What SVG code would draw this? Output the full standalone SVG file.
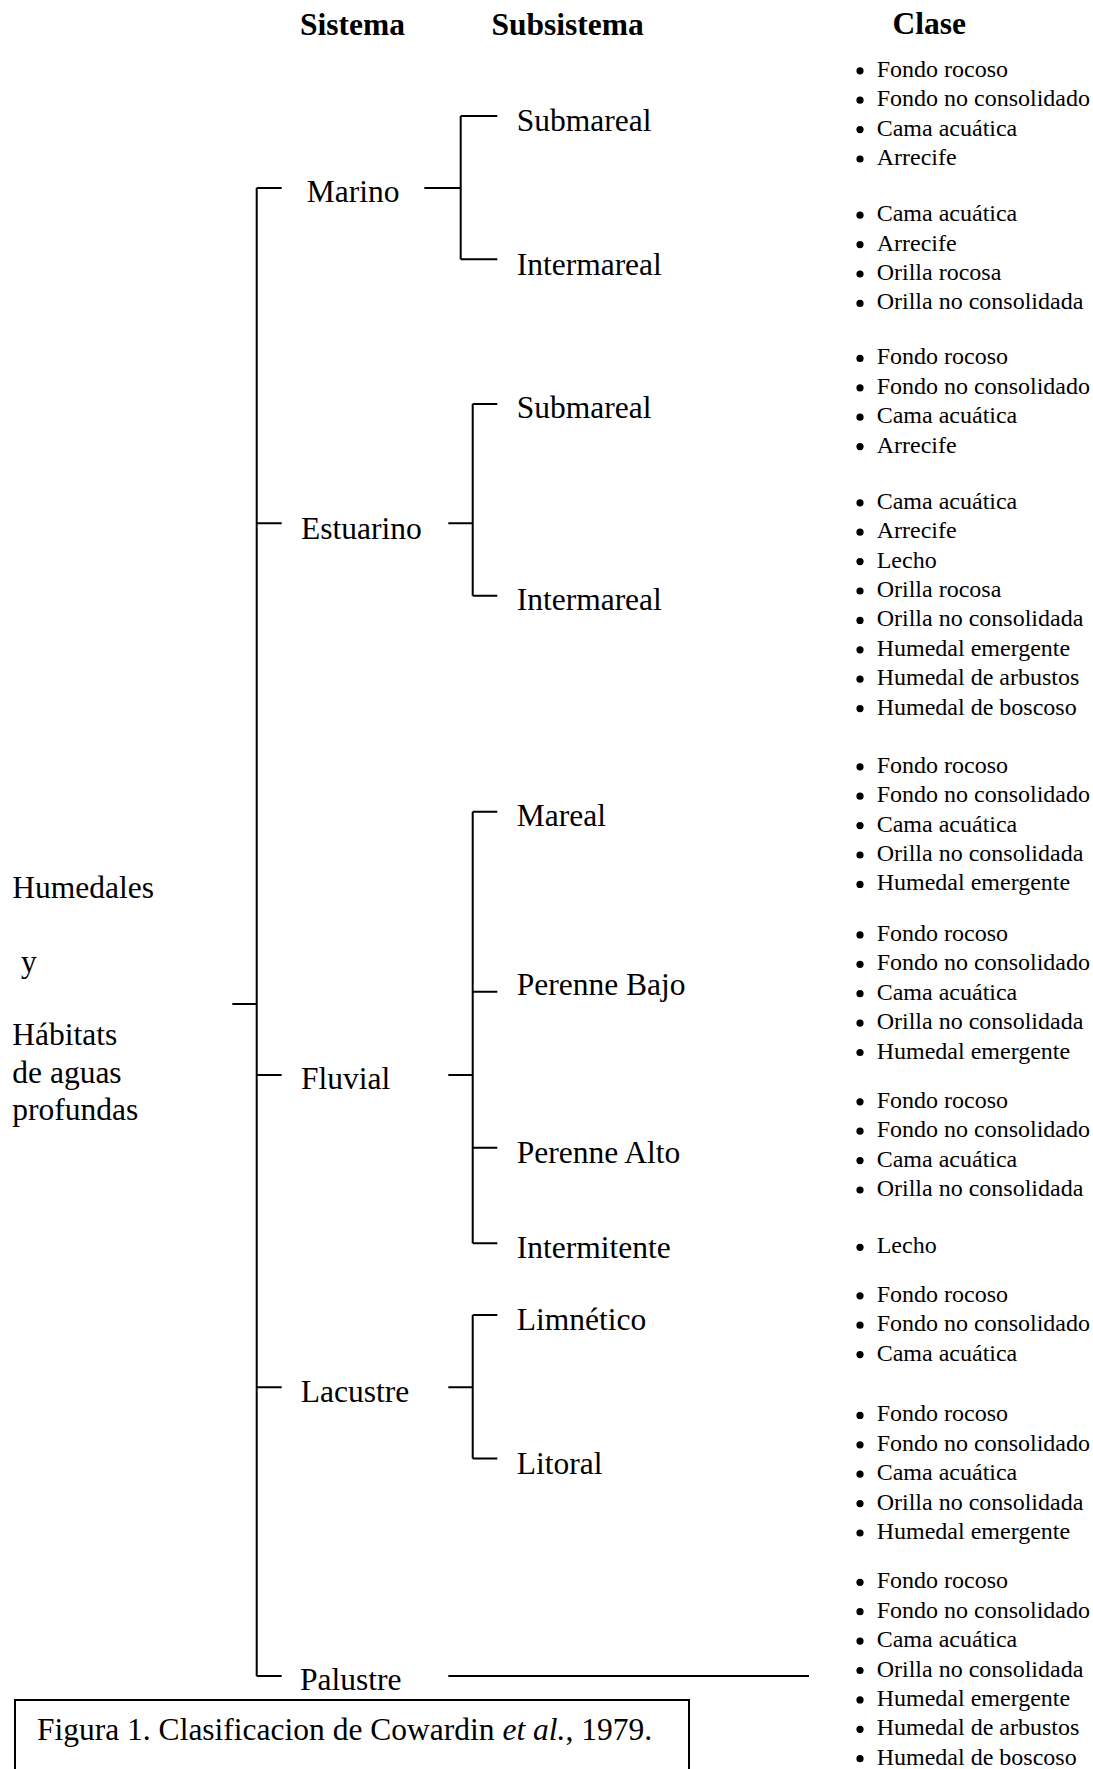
<svg xmlns="http://www.w3.org/2000/svg" xmlns:xlink="http://www.w3.org/1999/xlink" width="1093" height="1769" viewBox="0 0 1093 1769">
<style>
text{font-family:"Liberation Serif","Times New Roman",serif;fill:#000}
.h{font-size:31.5px;font-weight:bold}
.t{font-size:31.5px}
.l{font-size:24px}
.c{fill:none;stroke:#000;stroke-width:2}
</style>
<defs><circle id="b" r="3.6" fill="#000"/></defs>
<rect width="1093" height="1769" fill="#fff"/>
<g id="headers">
<text class="h" x="300" y="35">Sistema</text>
<text class="h" x="491.5" y="35">Subsistema</text>
<text class="h" x="892.5" y="34">Clase</text>
</g>
<g id="connectors" class="c">
<path d="M256.7,188 V1676 M232.3,1004 H256.7 M256.7,188 H281.7 M256.7,523.3 H281.7 M256.7,1075 H281.7 M256.7,1387.3 H281.7 M256.7,1676 H281.7"/>
<path d="M424.3,188 H460.7 M460.7,116 V259.3 M460.7,116 H497.3 M460.7,259.3 H497.3"/>
<path d="M448.3,523.3 H472.7 M472.7,404 V595.7 M472.7,404 H497.3 M472.7,595.7 H497.3"/>
<path d="M448.3,1075 H472.7 M472.7,811.7 V1243.3 M472.7,811.7 H497.3 M472.7,991.7 H497.3 M472.7,1147.7 H497.3 M472.7,1243.3 H497.3"/>
<path d="M448.3,1387.3 H472.7 M472.7,1315 V1458.5 M472.7,1315 H497.3 M472.7,1458.5 H497.3"/>
<path d="M448.3,1676 H809"/>
</g>
<g id="root">
<text class="t" x="12.3" y="898.3">Humedales</text>
<text class="t" x="21" y="972">y</text>
<text class="t" x="12.3" y="1045">Hábitats</text>
<text class="t" x="12.3" y="1082.7">de aguas</text>
<text class="t" x="12.3" y="1120">profundas</text>
</g>
<g id="marino"><text class="t" x="306.7" y="202">Marino</text></g>
<g id="estuarino"><text class="t" x="301" y="538.5">Estuarino</text></g>
<g id="fluvial"><text class="t" x="301" y="1089.3">Fluvial</text></g>
<g id="lacustre"><text class="t" x="300.8" y="1401.7">Lacustre</text></g>
<g id="palustre"><text class="t" x="300" y="1690">Palustre</text></g>
<g id="marino-submareal"><text class="t" x="516.7" y="131">Submareal</text></g>
<g id="marino-intermareal"><text class="t" x="516.7" y="275">Intermareal</text></g>
<g id="estuarino-submareal"><text class="t" x="516.7" y="418">Submareal</text></g>
<g id="estuarino-intermareal"><text class="t" x="516.7" y="610">Intermareal</text></g>
<g id="fluvial-mareal"><text class="t" x="516.7" y="825.7">Mareal</text></g>
<g id="fluvial-perenne-bajo"><text class="t" x="516.7" y="995.3">Perenne Bajo</text></g>
<g id="fluvial-perenne-alto"><text class="t" x="516.7" y="1163">Perenne Alto</text></g>
<g id="fluvial-intermitente"><text class="t" x="516.7" y="1257.5">Intermitente</text></g>
<g id="lacustre-limnetico"><text class="t" x="516.7" y="1330">Limnético</text></g>
<g id="lacustre-litoral"><text class="t" x="516.7" y="1473.5">Litoral</text></g>

<g id="clase-marino-submareal">
<use xlink:href="#b" x="860" y="70.8"/><text class="l" x="876.7" y="76.8">Fondo rocoso</text>
<use xlink:href="#b" x="860" y="100.2"/><text class="l" x="876.7" y="106.2">Fondo no consolidado</text>
<use xlink:href="#b" x="860" y="129.6"/><text class="l" x="876.7" y="135.6">Cama acuática</text>
<use xlink:href="#b" x="860" y="159"/><text class="l" x="876.7" y="165">Arrecife</text>
</g>
<g id="clase-marino-intermareal">
<use xlink:href="#b" x="860" y="215.2"/><text class="l" x="876.7" y="221.2">Cama acuática</text>
<use xlink:href="#b" x="860" y="244.6"/><text class="l" x="876.7" y="250.6">Arrecife</text>
<use xlink:href="#b" x="860" y="274"/><text class="l" x="876.7" y="280">Orilla rocosa</text>
<use xlink:href="#b" x="860" y="303.4"/><text class="l" x="876.7" y="309.4">Orilla no consolidada</text>
</g>
<g id="clase-estuarino-submareal">
<use xlink:href="#b" x="860" y="358.4"/><text class="l" x="876.7" y="364.4">Fondo rocoso</text>
<use xlink:href="#b" x="860" y="387.8"/><text class="l" x="876.7" y="393.8">Fondo no consolidado</text>
<use xlink:href="#b" x="860" y="417.2"/><text class="l" x="876.7" y="423.2">Cama acuática</text>
<use xlink:href="#b" x="860" y="446.6"/><text class="l" x="876.7" y="452.6">Arrecife</text>
</g>
<g id="clase-estuarino-intermareal">
<use xlink:href="#b" x="860" y="502.8"/><text class="l" x="876.7" y="508.8">Cama acuática</text>
<use xlink:href="#b" x="860" y="532.2"/><text class="l" x="876.7" y="538.2">Arrecife</text>
<use xlink:href="#b" x="860" y="561.6"/><text class="l" x="876.7" y="567.6">Lecho</text>
<use xlink:href="#b" x="860" y="591"/><text class="l" x="876.7" y="597">Orilla rocosa</text>
<use xlink:href="#b" x="860" y="620.4"/><text class="l" x="876.7" y="626.4">Orilla no consolidada</text>
<use xlink:href="#b" x="860" y="649.8"/><text class="l" x="876.7" y="655.8">Humedal emergente</text>
<use xlink:href="#b" x="860" y="679.2"/><text class="l" x="876.7" y="685.2">Humedal de arbustos</text>
<use xlink:href="#b" x="860" y="708.6"/><text class="l" x="876.7" y="714.6">Humedal de boscoso</text>
</g>
<g id="clase-fluvial-mareal">
<use xlink:href="#b" x="860" y="766.8"/><text class="l" x="876.7" y="772.8">Fondo rocoso</text>
<use xlink:href="#b" x="860" y="796.2"/><text class="l" x="876.7" y="802.2">Fondo no consolidado</text>
<use xlink:href="#b" x="860" y="825.6"/><text class="l" x="876.7" y="831.6">Cama acuática</text>
<use xlink:href="#b" x="860" y="855"/><text class="l" x="876.7" y="861">Orilla no consolidada</text>
<use xlink:href="#b" x="860" y="884.4"/><text class="l" x="876.7" y="890.4">Humedal emergente</text>
</g>
<g id="clase-fluvial-perenne-bajo">
<use xlink:href="#b" x="860" y="934.9"/><text class="l" x="876.7" y="940.9">Fondo rocoso</text>
<use xlink:href="#b" x="860" y="964.3"/><text class="l" x="876.7" y="970.3">Fondo no consolidado</text>
<use xlink:href="#b" x="860" y="993.7"/><text class="l" x="876.7" y="999.7">Cama acuática</text>
<use xlink:href="#b" x="860" y="1023.1"/><text class="l" x="876.7" y="1029.1">Orilla no consolidada</text>
<use xlink:href="#b" x="860" y="1052.5"/><text class="l" x="876.7" y="1058.5">Humedal emergente</text>
</g>
<g id="clase-fluvial-perenne-alto">
<use xlink:href="#b" x="860" y="1101.8"/><text class="l" x="876.7" y="1107.8">Fondo rocoso</text>
<use xlink:href="#b" x="860" y="1131.2"/><text class="l" x="876.7" y="1137.2">Fondo no consolidado</text>
<use xlink:href="#b" x="860" y="1160.6"/><text class="l" x="876.7" y="1166.6">Cama acuática</text>
<use xlink:href="#b" x="860" y="1190"/><text class="l" x="876.7" y="1196">Orilla no consolidada</text>
</g>
<g id="clase-fluvial-intermitente">
<use xlink:href="#b" x="860" y="1247.3"/><text class="l" x="876.7" y="1253.3">Lecho</text>
</g>
<g id="clase-lacustre-limnetico">
<use xlink:href="#b" x="860" y="1295.8"/><text class="l" x="876.7" y="1301.8">Fondo rocoso</text>
<use xlink:href="#b" x="860" y="1325.2"/><text class="l" x="876.7" y="1331.2">Fondo no consolidado</text>
<use xlink:href="#b" x="860" y="1354.6"/><text class="l" x="876.7" y="1360.6">Cama acuática</text>
</g>
<g id="clase-lacustre-litoral">
<use xlink:href="#b" x="860" y="1415.4"/><text class="l" x="876.7" y="1421.4">Fondo rocoso</text>
<use xlink:href="#b" x="860" y="1444.8"/><text class="l" x="876.7" y="1450.8">Fondo no consolidado</text>
<use xlink:href="#b" x="860" y="1474.2"/><text class="l" x="876.7" y="1480.2">Cama acuática</text>
<use xlink:href="#b" x="860" y="1503.6"/><text class="l" x="876.7" y="1509.6">Orilla no consolidada</text>
<use xlink:href="#b" x="860" y="1533"/><text class="l" x="876.7" y="1539">Humedal emergente</text>
</g>
<g id="clase-palustre">
<use xlink:href="#b" x="860" y="1582.3"/><text class="l" x="876.7" y="1588.3">Fondo rocoso</text>
<use xlink:href="#b" x="860" y="1611.7"/><text class="l" x="876.7" y="1617.7">Fondo no consolidado</text>
<use xlink:href="#b" x="860" y="1641.1"/><text class="l" x="876.7" y="1647.1">Cama acuática</text>
<use xlink:href="#b" x="860" y="1670.5"/><text class="l" x="876.7" y="1676.5">Orilla no consolidada</text>
<use xlink:href="#b" x="860" y="1699.9"/><text class="l" x="876.7" y="1705.9">Humedal emergente</text>
<use xlink:href="#b" x="860" y="1729.3"/><text class="l" x="876.7" y="1735.3">Humedal de arbustos</text>
<use xlink:href="#b" x="860" y="1758.7"/><text class="l" x="876.7" y="1764.7">Humedal de boscoso</text>
</g>
<g id="caption">
<rect x="15" y="1700" width="674" height="80" fill="#fff" stroke="#000" stroke-width="2"/>
<text class="t" x="37" y="1740">Figura 1. Clasificacion de Cowardin <tspan font-style="italic">et al.</tspan>, 1979.</text>
</g>
</svg>
